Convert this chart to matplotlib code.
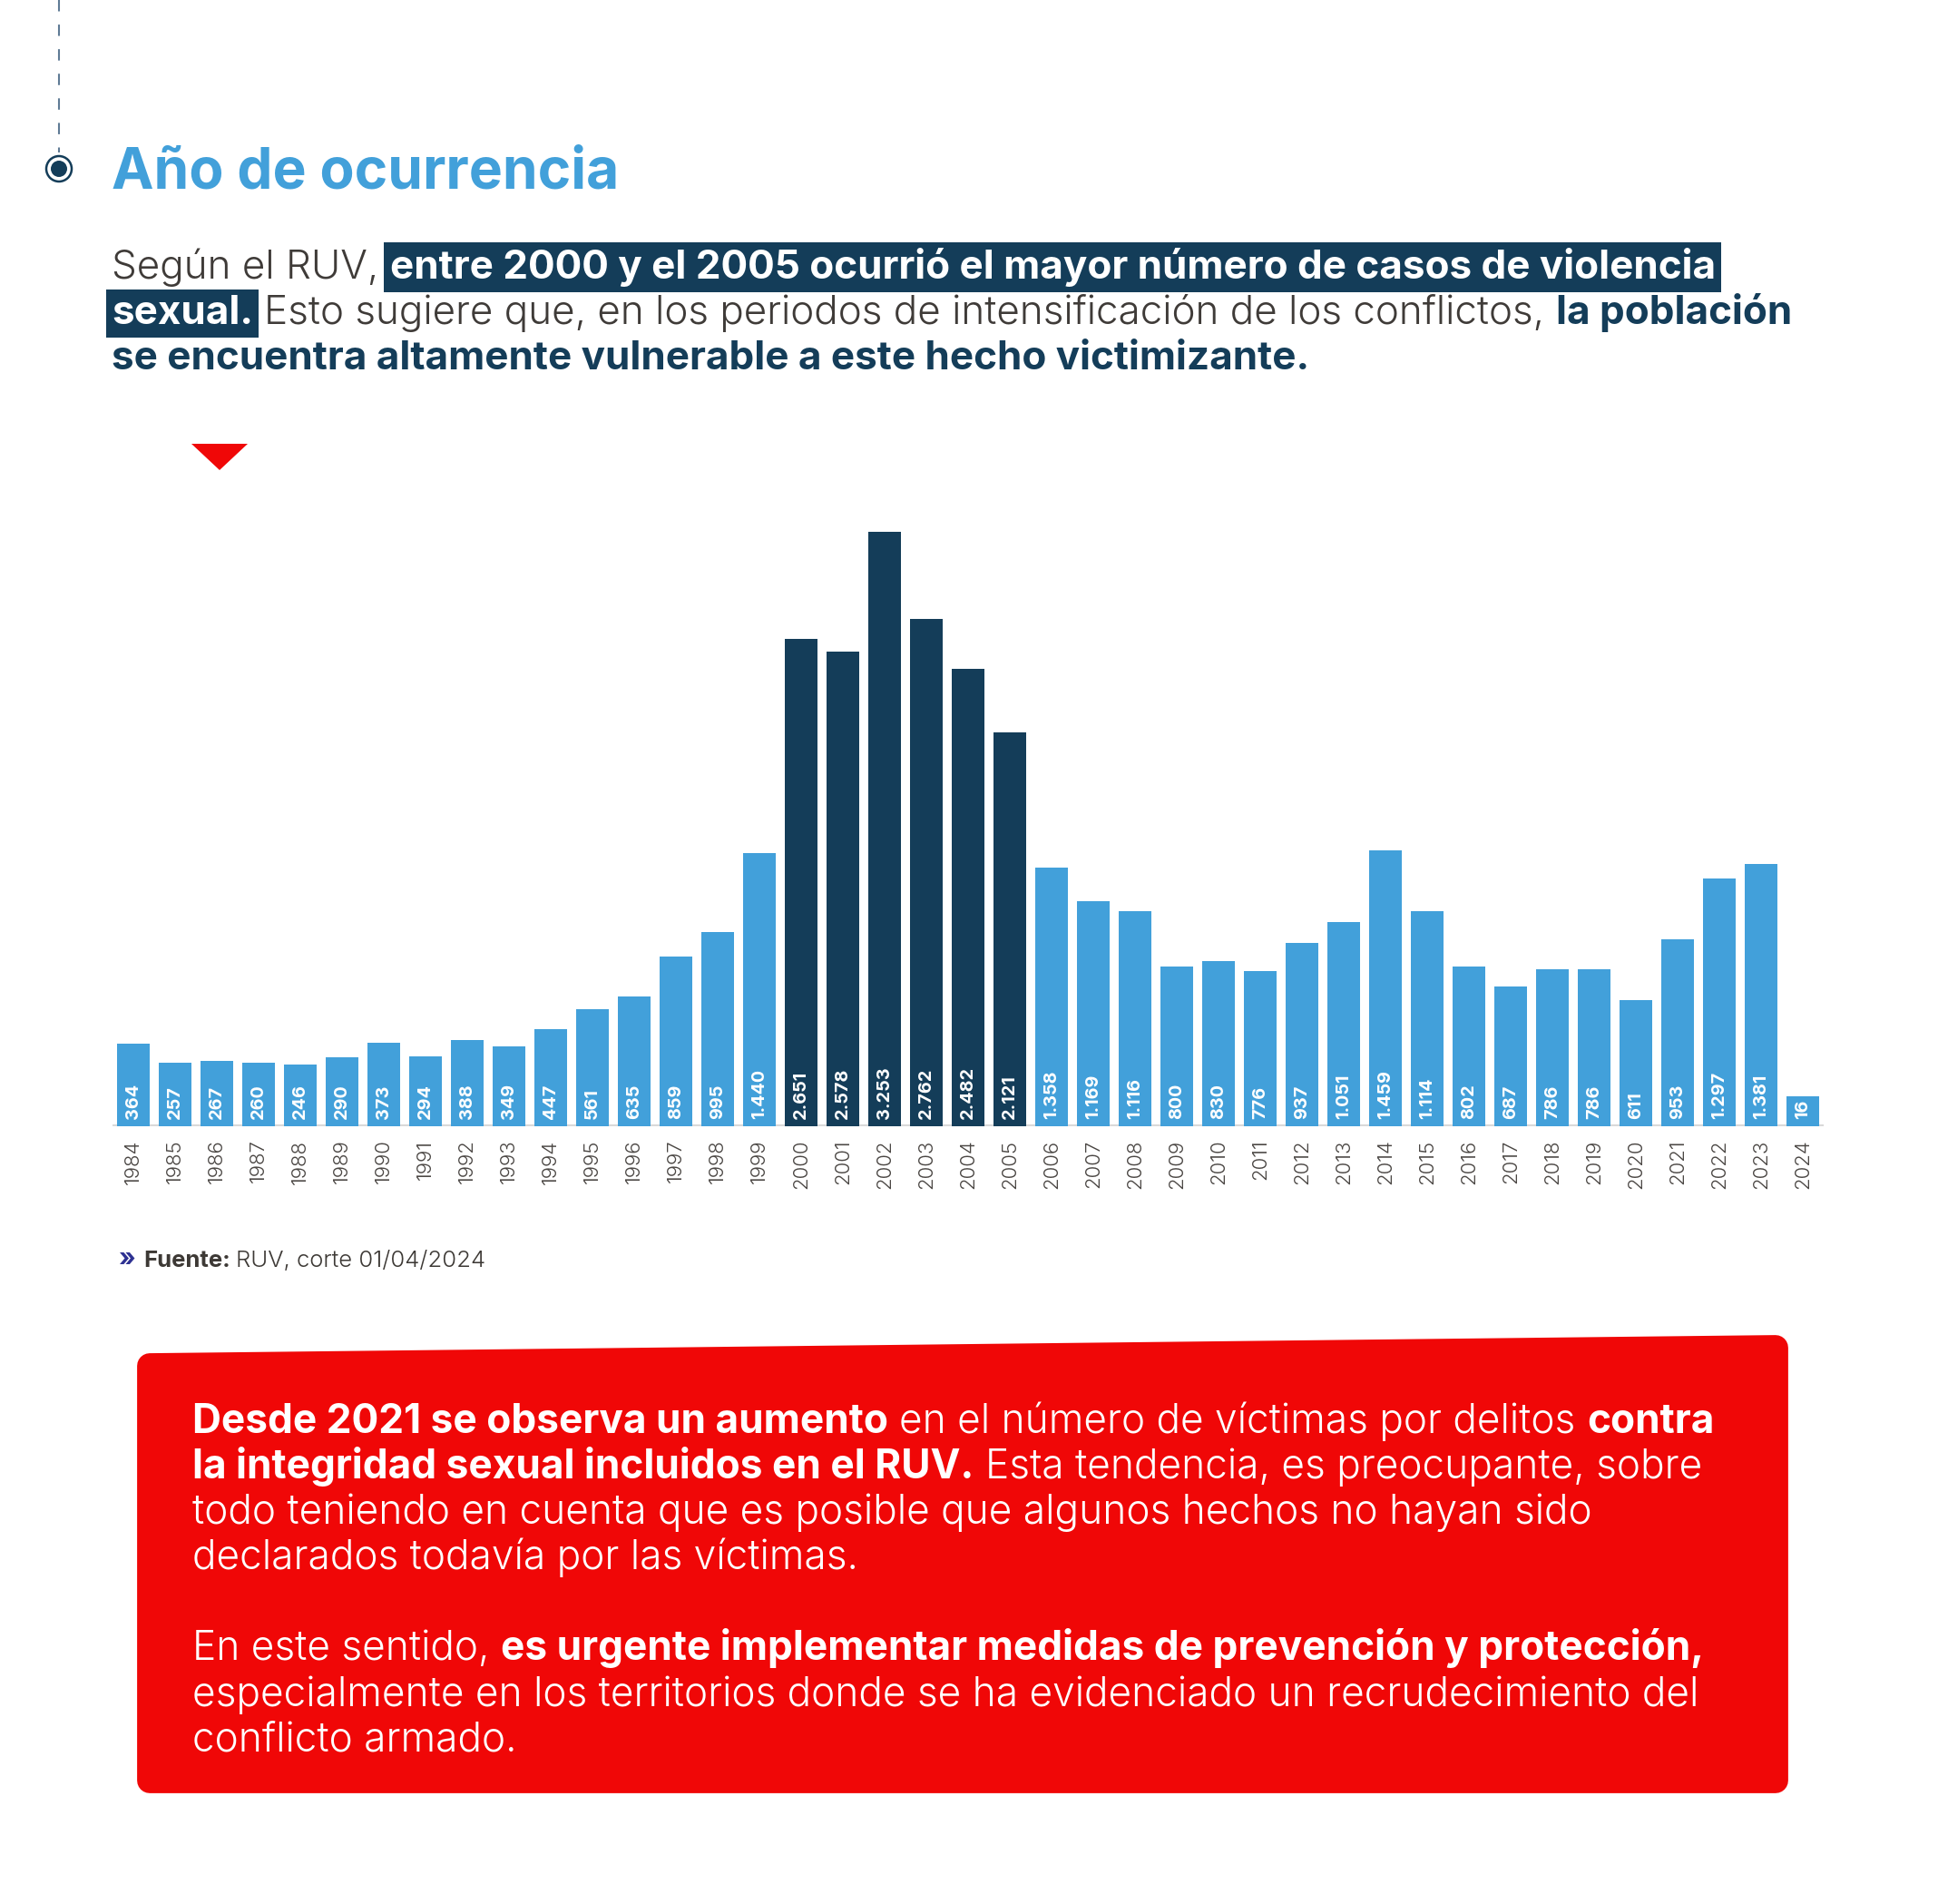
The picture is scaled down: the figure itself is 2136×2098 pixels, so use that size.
import matplotlib.pyplot as plt
from matplotlib.patches import Polygon, Circle
import numpy as np

# datos
years = list(range(1984, 2025))
victims = [364, 257, 267, 260, 246, 290, 373, 294, 388, 349, 447, 561, 635, 859, 995, 1440,
           2651, 2578, 3253, 2762, 2482, 2121,
           1358, 1169, 1116, 800, 830, 776, 937, 1051, 1459, 1114, 802, 687, 786, 786, 611,
           953, 1297, 1381, 16]
peak_years = [2000, 2001, 2002, 2003, 2004, 2005]

title = "Año de ocurrencia"
source_bold = "Fuente:"
source_text = "RUV, corte 01/04/2024"

FONT = "Inter"
LIGHT, BOLD = 300, 700
BLUE = "#42a0da"
NAVY = "#143d59"
GRAY = "#3f3b38"
RED = "#f00707"

intro_lines = [
    [("Según el RUV, ", LIGHT, GRAY, None),
     ("entre 2000 y el 2005 ocurrió el mayor número de casos de violencia", BOLD, "white", NAVY)],
    [("sexual.", BOLD, "white", NAVY),
     (" Esto sugiere que, en los periodos de intensificación de los conflictos, ", LIGHT, GRAY, None),
     ("la población", BOLD, NAVY, None)],
    [("se encuentra altamente vulnerable a este hecho victimizante.", BOLD, NAVY, None)],
]

box_lines = [
    [("Desde 2021 se observa un aumento", BOLD), (" en el número de víctimas por delitos ", LIGHT),
     ("contra", BOLD)],
    [("la integridad sexual incluidos en el RUV.", BOLD),
     (" Esta tendencia, es preocupante, sobre", LIGHT)],
    [("todo teniendo en cuenta que es posible que algunos hechos no hayan sido", LIGHT)],
    [("declarados todavía por las víctimas.", LIGHT)],
    [],
    [("En este sentido, ", LIGHT), ("es urgente implementar medidas de prevención y protección,", BOLD)],
    [("especialmente en los territorios donde se ha evidenciado un recrudecimiento del", LIGHT)],
    [("conflicto armado.", LIGHT)],
]

W, H = 2136, 2098
fig = plt.figure(figsize=(W / 100, H / 100), dpi=100)
fig.patch.set_facecolor("white")

# capa de dibujo en pixeles
ov = fig.add_axes([0, 0, 1, 1])
ov.set_xlim(0, W)
ov.set_ylim(H, 0)
ov.axis("off")
ov.patch.set_alpha(0)

r = fig.canvas.get_renderer()


def width(t):
    return t.get_window_extent(renderer=r).width


def space_w(size, weight):
    a = ov.text(0, 0, "n n", fontsize=size, fontweight=weight, family=FONT)
    b = ov.text(0, 0, "nn", fontsize=size, fontweight=weight, family=FONT)
    w = width(a) - width(b)
    a.remove()
    b.remove()
    return w


def draw_runs(x, y, runs, size, draw=True):
    x0 = x
    for text, weight, color, bg in runs:
        if text.startswith(" "):
            x += space_w(size, weight)
        kw = {}
        if bg:
            kw["bbox"] = dict(boxstyle="square,pad=0.14", fc=bg, ec="none")
        t = ov.text(x, y, text.strip(), fontsize=size, fontweight=weight, color=color,
                    family=FONT, va="baseline", ha="left", **kw)
        x += width(t)
        if not draw:
            t.remove()
        if text.endswith(" "):
            x += space_w(size, weight)
    return x - x0


def fit(runs, target, ref=20):
    # tamaño de letra para que la linea ocupe el ancho de la referencia
    return ref * target / draw_runs(0, 0, runs, ref, draw=False)


# linea punteada y marcador
ov.plot([65, 65], [0, 168], color="#5f7b95", lw=1.5, dashes=(6, 7))
ov.add_patch(Circle((65, 186), 14, fc="white", ec=NAVY, lw=1.8))
ov.add_patch(Circle((65, 186), 9, fc=NAVY, ec="none"))

title_size = fit([(title, BOLD, BLUE, None)], 561)
ov.text(123, 207, title, fontsize=title_size, fontweight=BOLD, color=BLUE, family=FONT,
        va="baseline")

intro_size = fit(intro_lines[0], 1773)
for k, line in enumerate(intro_lines):
    draw_runs(123, 307 + 50 * k, line, intro_size)

# triangulo rojo
ov.add_patch(Polygon([[211, 489], [273, 489], [242, 518]], closed=True, fc=RED, ec="none"))

# grafico de barras (las barras arrancan un poco bajo cero para que quepan las etiquetas)
base = 100
min_h = 170
ax = fig.add_axes([124 / W, (H - 1241) / H, 1886 / W, 681 / H])
x = np.arange(len(years))
colors = [NAVY if y in peak_years else BLUE for y in years]
ax.bar(x, np.maximum(np.array(victims) + base, min_h), bottom=-base, width=0.8,
       color=colors, zorder=2)
ax.axhline(-base, color="#d9d9d9", lw=3, zorder=1)
for i, v in enumerate(victims):
    ax.annotate(f"{v:,}".replace(",", "."), (i, -base), xytext=(0, 6), textcoords="offset points",
                rotation=90, ha="center", va="bottom", color="white", fontsize=14.3,
                fontweight=BOLD, family=FONT, zorder=3)
ax.set_xlim(-0.5, len(years) - 0.5)
ax.set_ylim(-base, -base + 681 / 0.1952)
ax.set_xticks(x, [str(y) for y in years], rotation=90, fontsize=16, color="#4a4643",
              fontweight=LIGHT, family=FONT)
ax.tick_params(axis="x", length=0, pad=10.5)
ax.set_yticks([])
for s in ax.spines.values():
    s.set_visible(False)
ax.patch.set_alpha(0)

# fuente
src_runs = [(source_bold + " ", BOLD, "#3d3935", None), (source_text, LIGHT, "#3d3935", None)]
src_size = fit(src_runs, 377)
ov.text(131, 1396, "»", fontsize=src_size * 1.1, fontweight=BOLD, color="#2e3192", family=FONT,
        va="baseline")
draw_runs(158, 1396, src_runs, src_size)

# recuadro rojo (esquinas redondeadas con el borde grueso)
ov.add_patch(Polygon([[165, 1505], [1957, 1485], [1957, 1962], [165, 1962]], closed=True,
                     fc=RED, ec=RED, lw=20, joinstyle="round"))
box_runs = [[(t, w, "white", None) for t, w in line] for line in box_lines]
box_size = fit(box_runs[0], 1681)
for k, line in enumerate(box_runs):
    draw_runs(212, 1579 + 50.1 * k, line, box_size)

fig.savefig("out.png", dpi=100, facecolor="white")
